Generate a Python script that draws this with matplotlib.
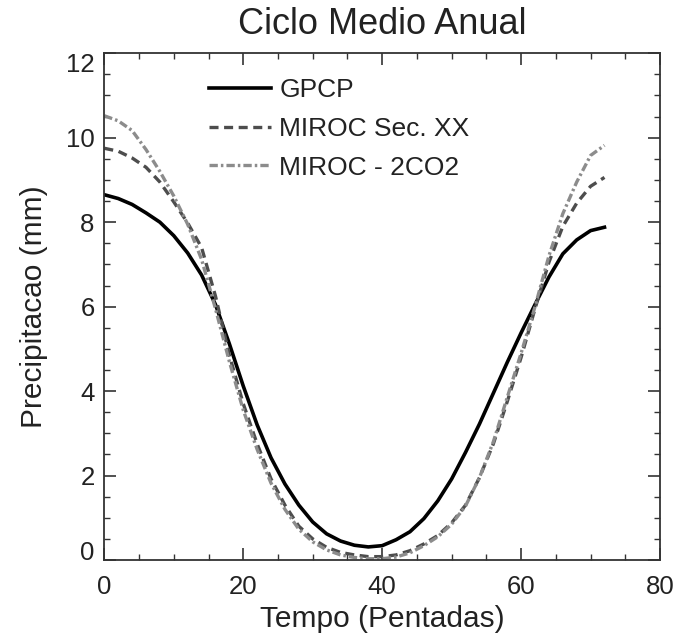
import matplotlib
matplotlib.use("Agg")
import matplotlib.pyplot as plt
from matplotlib.ticker import MultipleLocator, FixedLocator

# Data (pentads)
pentadas = [0, 2, 4, 6, 8, 10, 12, 14, 16, 18, 20, 22, 24, 26, 28, 30, 32, 34, 36,
            38, 40, 42, 44, 46, 48, 50, 52, 54, 56, 58, 60, 62, 64, 66, 68, 70, 72]
gpcp = [8.65, 8.56, 8.42, 8.22, 8.00, 7.68, 7.27, 6.75, 6.05, 5.12, 4.12, 3.20, 2.42, 1.80, 1.30, 0.90,
        0.62, 0.45, 0.35, 0.31, 0.34, 0.48, 0.67, 0.98, 1.40, 1.92, 2.55, 3.22, 3.95, 4.68, 5.38,
        6.05, 6.70, 7.25, 7.58, 7.80, 7.88]
miroc_xx = [9.75, 9.68, 9.52, 9.30, 8.95, 8.48, 7.98, 7.40, 6.25, 4.85, 3.70, 2.75, 1.92, 1.30, 0.80, 0.50,
            0.30, 0.18, 0.12, 0.08, 0.08, 0.12, 0.22, 0.38, 0.58, 0.88, 1.30, 1.95, 2.75, 3.75, 4.80,
            5.95, 7.05, 7.90, 8.45, 8.85, 9.06]
miroc_2co2 = [10.52, 10.40, 10.17, 9.72, 9.20, 8.62, 7.95, 7.12, 5.95, 4.70, 3.55, 2.62, 1.82, 1.20, 0.73, 0.43,
              0.24, 0.12, 0.06, 0.03, 0.03, 0.07, 0.17, 0.34, 0.55, 0.85, 1.28, 1.95, 2.80, 3.85, 4.90,
              6.00, 7.20, 8.20, 8.95, 9.58, 9.82]

labels = ["GPCP", "MIROC Sec. XX", "MIROC - 2CO2"]
title = "Ciclo Medio Anual"
xlabel = "Tempo (Pentadas)"
ylabel = "Precipitacao (mm)"
yticks = [0, 2, 4, 6, 8, 10, 12]
xticks = [0, 20, 40, 60, 80]

plt.rcParams['font.family'] = ['Liberation Sans', 'DejaVu Sans']
plt.rcParams['lines.scale_dashes'] = False

fig = plt.figure(figsize=(6.89, 6.34), dpi=100)
ax = fig.add_axes([0.1514, 0.1167, 0.8066, 0.7993])

ax.plot(pentadas, gpcp, color='black', lw=2.6, label=labels[0])
l2, = ax.plot(pentadas, miroc_xx, color='#4d4d4d', lw=2.4, label=labels[1])
l2.set_dashes((6.5, 4.0))
l3, = ax.plot(pentadas, miroc_2co2, color='#8c8c8c', lw=2.4, label=labels[2])
l3.set_dashes((6.0, 2.2, 1.8, 2.2))

ax.set_xlim(0, 80)
ax.set_ylim(0, 12)
ax.xaxis.set_major_locator(FixedLocator(xticks))
ax.xaxis.set_minor_locator(MultipleLocator(5))
ax.yaxis.set_major_locator(FixedLocator(yticks))
ax.yaxis.set_minor_locator(MultipleLocator(0.5))
ax.tick_params(which='both', direction='in', top=True, right=True, color='#333333')
ax.tick_params(which='major', length=8.5, width=1.2, labelsize=18.5, labelcolor='#222222')
ax.tick_params(axis='x', which='major', pad=11)
ax.tick_params(axis='y', which='major', pad=7)
ax.tick_params(which='minor', length=4.5, width=1.0)
for s in ax.spines.values():
    s.set_color('#333333')
    s.set_linewidth(1.3)

yt = ax.yaxis.get_major_ticks()
yt[0].label1.set_verticalalignment('baseline')
yt[-1].label1.set_verticalalignment('top')

ax.set_title(title, fontsize=26, color='#222222', pad=14)
ax.set_xlabel(xlabel, fontsize=21.5, color='#222222', labelpad=4)
ax.set_ylabel(ylabel, fontsize=21.5, color='#222222', labelpad=13)

leg = ax.legend(loc='upper left', bbox_to_anchor=(0.17, 0.972), frameon=False, fontsize=19,
                handlelength=2.35, handletextpad=0.3, labelspacing=0.56, borderaxespad=0.0)
for t in leg.get_texts():
    t.set_color('#222222')

fig.savefig('out.png', dpi=100)
